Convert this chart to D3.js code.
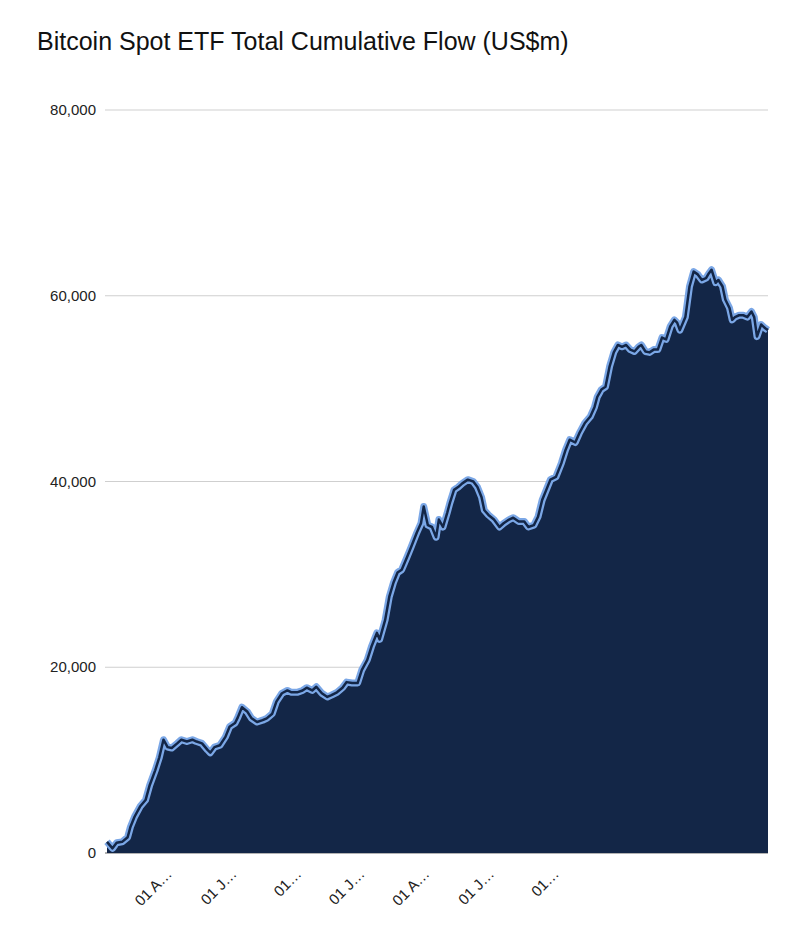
<!DOCTYPE html>
<html>
<head>
<meta charset="utf-8">
<script src="https://cdn.jsdelivr.net/npm/d3@7"></script>
<style>
  body { margin: 0; background: #fff; }
  text { font-family: "Liberation Sans", Arial, sans-serif; }
</style>
</head>
<body>
<svg id="chart" width="800" height="945"></svg>
<script>
// trading session index (approx.) and cumulative flow (US$m)
const sessions = [0,4,7,11,15,17,20,24,28,31,35,38,41,44,47,51,54,58,62,65,69,73,75,78,82,86,89,93,95,98,
  102,105,109,113,116,120,123,127,131,134,138,142,145,149,152,156,160,163,167,171,174,178,182,185,189,192,196,198,
  202,205,208,211,214,218,221,225,228,230,233,236,239,241,244,247,249,252,255,258,262,266,269,272,274,277,281,285,288,
  292,295,299,303,306,310,313,316,319,322,326,330,333,336,340,343,347,351,354,356,359,362,365,368,371,374,377,380,383,
  386,388,391,394,397,400,403,406,409,412,414,416,420,423,426,429,432,435,437,439,442,444,447,449,452,454,456,459,462,
  465,468,470,472,475,478,480];
const flows = [1200,500,1100,1200,1700,2800,3900,5000,5700,7300,8900,10300,12200,11400,11300,11800,12200,12000,12200,12000,
  11800,11100,10800,11400,11600,12500,13600,14000,14600,15700,15200,14500,14100,14300,14500,15000,16300,17200,17500,17300,
  17300,17500,17800,17500,17900,17200,16800,17000,17300,17800,18400,18300,18300,19700,20800,22200,23700,23000,25100,27600,
  29100,30200,30500,31900,33000,34500,35500,37300,35300,35100,34000,35900,35100,36600,37700,39100,39400,39800,40200,40000,
  39400,38300,36900,36400,35900,35100,35500,35900,36100,35700,35700,35100,35300,36200,38000,39100,40200,40500,42000,43400,
  44500,44200,45200,46300,47000,48000,49100,49900,50200,52400,53900,54700,54500,54700,54200,54000,54500,54700,54000,53900,
  54200,54200,55500,55300,56700,57400,57100,56300,57700,61000,62600,62300,61700,61900,62400,62800,61400,61700,61000,59600,
  58700,57400,57700,57900,57900,57700,58300,57700,55600,56900,56500,56300];

const yTicks = [0, 20000, 40000, 60000, 80000];
const xTickSessions = [42, 89, 136, 182, 229, 276, 323];
const xTickLabels = ['01 A…', '01 J…', '01…', '01 J…', '01 A…', '01 J…', '01…'];

const data = sessions.map((s, i) => ({ s, v: flows[i] }));

const svg = d3.select('#chart');
const margin = { top: 110, right: 32, bottom: 92, left: 107 };
const width = +svg.attr('width');
const height = +svg.attr('height');

const x = d3.scaleLinear().domain([0, 480]).range([margin.left, width - margin.right]);
const y = d3.scaleLinear().domain([0, 80000]).range([height - margin.bottom, margin.top]);

// title
svg.append('text')
  .attr('x', 37).attr('y', 50)
  .style('font-size', '25px').style('fill', '#111')
  .text('Bitcoin Spot ETF Total Cumulative Flow (US$m)');

// gridlines + y labels
svg.append('g').selectAll('line').data(yTicks).enter().append('line')
  .attr('x1', margin.left - 2).attr('x2', width - margin.right)
  .attr('y1', d => y(d)).attr('y2', d => y(d))
  .attr('stroke', d => d === 0 ? '#666' : '#cfcfcf')
  .attr('stroke-width', 1.2);

svg.append('g').selectAll('text').data(yTicks).enter().append('text')
  .attr('x', 96).attr('y', d => y(d) + 5)
  .attr('text-anchor', 'end')
  .style('font-size', '15px').style('fill', '#222')
  .text(d => d3.format(',')(d));

// area + double stroke outline
const area = d3.area().x(d => x(d.s)).y0(y(0)).y1(d => y(d.v));
const line = d3.line().x(d => x(d.s)).y(d => y(d.v));

svg.append('path').datum(data).attr('d', area).attr('fill', '#132647');
svg.append('path').datum(data).attr('d', line)
  .attr('fill', 'none').attr('stroke', '#7ba7e6').attr('stroke-width', 7).attr('stroke-linejoin', 'round');
svg.append('path').datum(data).attr('d', line)
  .attr('fill', 'none').attr('stroke', '#132647').attr('stroke-width', 2.5).attr('stroke-linejoin', 'round');

// x labels, rotated
svg.append('g').selectAll('text').data(xTickSessions).enter().append('text')
  .attr('transform', d => `translate(${x(d) + 8},${height - margin.bottom + 22}) rotate(-45)`)
  .attr('text-anchor', 'end')
  .style('font-size', '15px').style('fill', '#222')
  .text((d, i) => xTickLabels[i]);
</script>
</body>
</html>
